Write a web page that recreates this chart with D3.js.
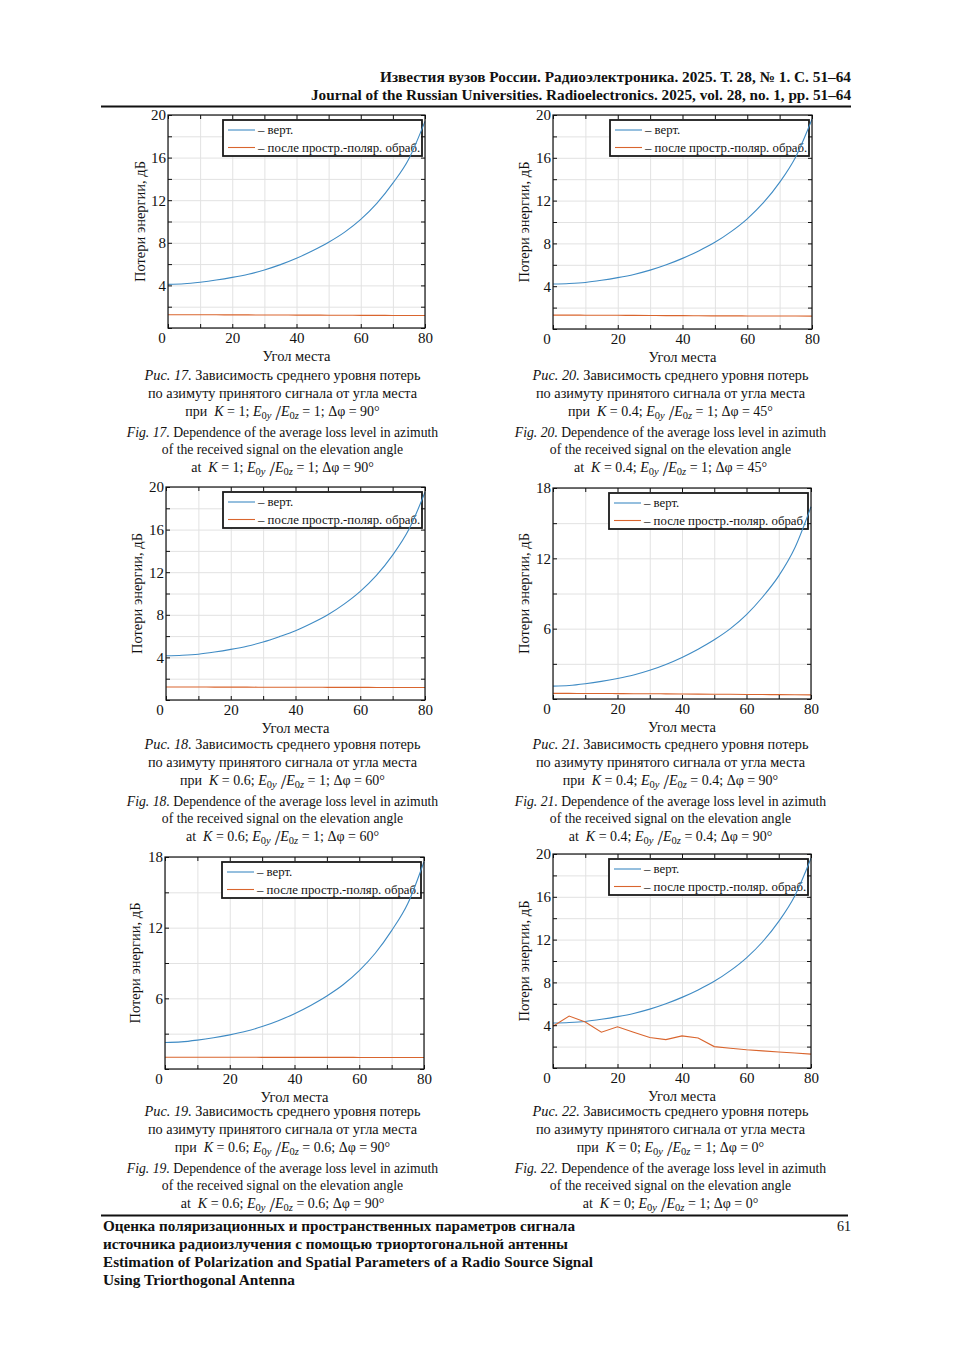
<!DOCTYPE html>
<html>
<head>
<meta charset="utf-8">
<script src="https://cdn.jsdelivr.net/npm/d3@7"></script>
<style>
  body { margin: 0; background: #fff; }
  svg { display: block; }
  text { font-family: "Liberation Serif", "Times New Roman", serif; fill: #111; }
</style>
</head>
<body>
<div id="page"></div>
<script>
// elevation angles, deg
var angles = [0, 5, 10, 15, 20, 25, 30, 35, 40, 45, 50, 55, 60, 65, 70, 75, 80];

// losses, dB ("верт." = vertical dipole, "после ..." = after processing)
var vert17 = [4.1, 4.15, 4.3, 4.5, 4.75, 5.05, 5.45, 5.95, 6.55, 7.25, 8.05, 9.0, 10.2, 11.7, 13.6, 15.9, 19.4];
var post17 = [1.25, 1.25, 1.24, 1.24, 1.23, 1.23, 1.22, 1.22, 1.21, 1.21, 1.2, 1.2, 1.19, 1.19, 1.18, 1.18, 1.17];
var vert20 = [4.2, 4.25, 4.35, 4.55, 4.8, 5.1, 5.5, 6.0, 6.6, 7.3, 8.1, 9.1, 10.3, 11.8, 13.7, 16.1, 19.6];
var post20 = [1.3, 1.3, 1.29, 1.29, 1.28, 1.27, 1.26, 1.25, 1.25, 1.24, 1.23, 1.23, 1.22, 1.22, 1.21, 1.21, 1.2];
var vert18 = [4.15, 4.2, 4.3, 4.5, 4.75, 5.05, 5.45, 5.95, 6.5, 7.2, 8.0, 9.0, 10.2, 11.7, 13.6, 16.0, 19.5];
var post18 = [1.22, 1.22, 1.22, 1.21, 1.21, 1.21, 1.2, 1.2, 1.2, 1.2, 1.19, 1.19, 1.19, 1.18, 1.18, 1.18, 1.18];
var vert21 = [1.1, 1.15, 1.3, 1.5, 1.75, 2.05, 2.45, 2.95, 3.55, 4.25, 5.05, 6.0, 7.2, 8.7, 10.5, 12.9, 16.4];
var post21 = [0.48, 0.48, 0.47, 0.47, 0.46, 0.45, 0.45, 0.44, 0.43, 0.42, 0.41, 0.4, 0.39, 0.38, 0.37, 0.36, 0.35];
var vert19 = [2.25, 2.3, 2.45, 2.65, 2.9, 3.2, 3.6, 4.1, 4.7, 5.4, 6.2, 7.15, 8.35, 9.85, 11.75, 14.05, 17.6];
var post19 = [1.0, 1.0, 1.0, 1.0, 1.0, 1.0, 0.99, 0.99, 0.99, 0.99, 0.99, 0.99, 0.98, 0.98, 0.98, 0.98, 0.98];
var vert22 = [4.2, 4.25, 4.35, 4.55, 4.8, 5.1, 5.5, 6.0, 6.6, 7.3, 8.1, 9.1, 10.3, 11.8, 13.7, 16.1, 19.6];
var post22 = [3.9, 4.85, 4.3, 3.35, 3.85, 3.35, 2.85, 2.65, 3.0, 2.8, 2.0, 1.85, 1.7, 1.6, 1.5, 1.4, 1.3];

// axis ticks
var xGrid = [0, 10, 20, 30, 40, 50, 60, 70, 80];
var xLabels = [20, 40, 60, 80];
var yGrid20 = [0, 2, 4, 6, 8, 10, 12, 14, 16, 18, 20];
var yLabels20 = [4, 8, 12, 16, 20];
var yGrid18 = [0, 3, 6, 9, 12, 15, 18];
var yLabels18 = [6, 12, 18];

// texts
var legendNames = ["– верт.", "– после простр.-поляр. обраб."];
var xTitle = "Угол места";
var yTitle = "Потери энергии, дБ";
var ruCaption = ["Зависимость среднего уровня потерь", "по азимуту принятого сигнала от угла места"];
var enCaption = ["Dependence of the average loss level in azimuth", "of the received signal on the elevation angle"];
var figNums = [17, 20, 18, 21, 19, 22];
var paramK = ["1", "0.4", "0.6", "0.4", "0.6", "0"];
var paramE = ["1", "1", "1", "0.4", "0.6", "1"];
var paramPhi = ["90", "45", "60", "90", "90", "0"];
var headerLines = ["Известия вузов России. Радиоэлектроника. 2025. Т. 28, № 1. С. 51–64",
                   "Journal of the Russian Universities. Radioelectronics. 2025, vol. 28, no. 1, pp. 51–64"];
var footerLines = ["Оценка поляризационных и пространственных параметров сигнала",
                   "источника радиоизлучения с помощью триортогональной антенны",
                   "Estimation of Polarization and Spatial Parameters of a Radio Source Signal",
                   "Using Triorthogonal Antenna"];
var pageNum = "61";

var W = 954, H = 1350;
var blue = "#3f8bc4", orange = "#d9652e";

// frames of the six plots on the page
var panels = [
    {l: 168, t: 115, r: 425, b: 328, yl: 140, col: 0, row: 0, vert: vert17, post: post17, ymax: 20},
    {l: 553, t: 115, r: 812, b: 329, yl: 524, col: 1, row: 0, vert: vert20, post: post20, ymax: 20},
    {l: 166, t: 487, r: 425, b: 700, yl: 137, col: 0, row: 1, vert: vert18, post: post18, ymax: 20},
    {l: 553, t: 488, r: 811, b: 699, yl: 524, col: 1, row: 1, vert: vert21, post: post21, ymax: 18},
    {l: 165, t: 857, r: 424, b: 1069, yl: 135, col: 0, row: 2, vert: vert19, post: post19, ymax: 18},
    {l: 553, t: 854, r: 811, b: 1068, yl: 524, col: 1, row: 2, vert: vert22, post: post22, ymax: 20}
];
var capCenter = [282.5, 670.5];
var capTop = [375, 744, 1111];

var svg = d3.select("#page").append("svg")
    .attr("width", W).attr("height", H)
    .attr("xmlns", "http://www.w3.org/2000/svg");

// header
svg.append("text").attr("x", 851).attr("y", 82).attr("text-anchor", "end")
    .attr("font-size", 15).attr("font-weight", "bold")
    .attr("textLength", 471).attr("lengthAdjust", "spacingAndGlyphs")
    .text(headerLines[0]);
svg.append("text").attr("x", 851).attr("y", 100).attr("text-anchor", "end")
    .attr("font-size", 15).attr("font-weight", "bold")
    .attr("textLength", 540).attr("lengthAdjust", "spacingAndGlyphs")
    .text(headerLines[1]);
svg.append("line").attr("x1", 101).attr("x2", 851).attr("y1", 106.5).attr("y2", 106.5)
    .attr("stroke", "#111").attr("stroke-width", 2.2);

// footer
svg.append("line").attr("x1", 101).attr("x2", 848).attr("y1", 1215.5).attr("y2", 1215.5)
    .attr("stroke", "#111").attr("stroke-width", 2);
var footLen = [472, 465, 490, 192];
footerLines.forEach(function (s, i) {
    svg.append("text").attr("x", 103).attr("y", 1231 + i * 18)
        .attr("font-size", 15).attr("font-weight", "bold")
        .attr("textLength", footLen[i]).attr("lengthAdjust", "spacingAndGlyphs")
        .text(s);
});
svg.append("text").attr("x", 851).attr("y", 1231).attr("text-anchor", "end")
    .attr("font-size", 14).text(pageNum);

function drawPanel(p, i) {
    var w = p.r - p.l, h = p.b - p.t;
    var x = d3.scaleLinear().domain([0, 80]).range([0, w]);
    var y = d3.scaleLinear().domain([0, p.ymax]).range([h, 0]);
    var yGrid = p.ymax === 20 ? yGrid20 : yGrid18;
    var yLabels = p.ymax === 20 ? yLabels20 : yLabels18;

    var g = svg.append("g").attr("transform", "translate(" + p.l + "," + p.t + ")");

    // grid
    g.append("g").attr("transform", "translate(0," + h + ")")
        .call(d3.axisBottom(x).tickValues(xGrid).tickSize(-h).tickFormat(""))
        .call(function (a) { a.select(".domain").remove(); a.selectAll("line").attr("stroke", "#e2e2e2"); });
    g.append("g")
        .call(d3.axisLeft(y).tickValues(yGrid).tickSize(-w).tickFormat(""))
        .call(function (a) { a.select(".domain").remove(); a.selectAll("line").attr("stroke", "#e2e2e2"); });

    // legend (curves pass over it)
    var lw = 199, lh = 36, lx = w - 3 - lw, ly = 5;
    var lg = g.append("g").attr("transform", "translate(" + lx + "," + ly + ")");
    lg.append("rect").attr("width", lw).attr("height", lh)
        .attr("fill", "#fff").attr("stroke", "#1a1a1a").attr("stroke-width", 1.8);
    [blue, orange].forEach(function (c, k) {
        var yy = 10 + k * 17.5;
        lg.append("line").attr("x1", 5).attr("x2", 32).attr("y1", yy).attr("y2", yy)
            .attr("stroke", c).attr("stroke-width", 1.1);
        lg.append("text").attr("x", 35).attr("y", yy + 4).attr("font-size", 12.8).text(legendNames[k]);
    });

    // lines
    var line = d3.line().x(function (d, k) { return x(angles[k]); }).y(function (d) { return y(d); });
    var smooth = d3.line().curve(d3.curveMonotoneX)
        .x(function (d, k) { return x(angles[k]); }).y(function (d) { return y(d); });
    g.append("path").datum(p.vert).attr("d", smooth)
        .attr("fill", "none").attr("stroke", blue).attr("stroke-width", 1.1);
    g.append("path").datum(p.post).attr("d", i === 5 ? line : smooth)
        .attr("fill", "none").attr("stroke", orange).attr("stroke-width", 1.1);

    // inward ticks on four sides
    function tickStyle(a) { a.select(".domain").remove(); a.selectAll("line").attr("stroke", "#111"); a.selectAll("text").remove(); }
    g.append("g").attr("transform", "translate(0," + h + ")")
        .call(d3.axisBottom(x).tickValues(xGrid).tickSize(-4)).call(tickStyle);
    g.append("g").call(d3.axisTop(x).tickValues(xGrid).tickSize(-4)).call(tickStyle);
    g.append("g").call(d3.axisLeft(y).tickValues(yGrid).tickSize(-4)).call(tickStyle);
    g.append("g").attr("transform", "translate(" + w + ",0)")
        .call(d3.axisRight(y).tickValues(yGrid).tickSize(-4)).call(tickStyle);

    // box
    g.append("rect").attr("width", w).attr("height", h)
        .attr("fill", "none").attr("stroke", "#111").attr("stroke-width", 1.2);

    // tick labels
    g.append("g").attr("transform", "translate(0," + h + ")")
        .call(d3.axisBottom(x).tickValues(xLabels).tickSize(0).tickPadding(4.5))
        .call(function (a) {
            a.select(".domain").remove();
            a.selectAll("text").attr("font-size", 15).attr("font-family", "Liberation Serif").attr("fill", "#111");
        });
    g.append("g")
        .call(d3.axisLeft(y).tickValues(yLabels).tickSize(0).tickPadding(2))
        .call(function (a) {
            a.select(".domain").remove();
            a.selectAll("text").attr("font-size", 15).attr("font-family", "Liberation Serif").attr("fill", "#111");
        });
    g.append("text").attr("x", -6).attr("y", h + 15).attr("text-anchor", "middle")
        .attr("font-size", 15).text("0");

    // axis titles
    g.append("text").attr("x", w / 2).attr("y", h + 32.5).attr("text-anchor", "middle")
        .attr("font-size", 14.5).text(xTitle);
    svg.append("text").attr("transform", "translate(" + (p.yl + 5) + "," + (p.t + h / 2) + ") rotate(-90)")
        .attr("text-anchor", "middle").attr("font-size", 14.5).text(yTitle);

    // caption
    var cx = capCenter[p.col], cy = capTop[p.row] + 5;
    var t1 = svg.append("text").attr("x", cx).attr("y", cy).attr("text-anchor", "middle").attr("font-size", 14.3);
    t1.append("tspan").attr("font-style", "italic").text("Рис. " + figNums[i] + ".");
    t1.append("tspan").text(" " + ruCaption[0]);
    svg.append("text").attr("x", cx).attr("y", cy + 17.5).attr("text-anchor", "middle")
        .attr("font-size", 14.3).text(ruCaption[1]);
    mathLine(cx, cy + 35.5, "при ", i);

    var t2 = svg.append("text").attr("x", cx).attr("y", cy + 56.5).attr("text-anchor", "middle").attr("font-size", 13.7);
    t2.append("tspan").attr("font-style", "italic").text("Fig. " + figNums[i] + ".");
    t2.append("tspan").text(" " + enCaption[0]);
    svg.append("text").attr("x", cx).attr("y", cy + 73.5).attr("text-anchor", "middle")
        .attr("font-size", 13.7).text(enCaption[1]);
    mathLine(cx, cy + 91.5, "at ", i);
}

function mathLine(cx, cy, prefix, i) {
    var t = svg.append("text").attr("x", cx).attr("y", cy).attr("text-anchor", "middle").attr("font-size", 14);
    t.append("tspan").text(prefix + "\u00a0");
    t.append("tspan").attr("font-style", "italic").text("K");
    t.append("tspan").text(" = " + paramK[i] + "; ");
    t.append("tspan").attr("font-style", "italic").text("E");
    t.append("tspan").attr("font-size", 10.5).attr("dy", 3).text("0");
    t.append("tspan").attr("font-size", 10.5).attr("font-style", "italic").text("y");
    t.append("tspan").attr("font-size", 20).attr("dy", 1).text("\u2009/");
    t.append("tspan").attr("font-style", "italic").attr("dy", -4).text("E");
    t.append("tspan").attr("font-size", 10.5).attr("dy", 3).text("0");
    t.append("tspan").attr("font-size", 10.5).attr("font-style", "italic").text("z");
    t.append("tspan").attr("dy", -3).text(" = " + paramE[i] + "; Δφ = " + paramPhi[i] + "°");
}

panels.forEach(drawPanel);
</script>
</body>
</html>
